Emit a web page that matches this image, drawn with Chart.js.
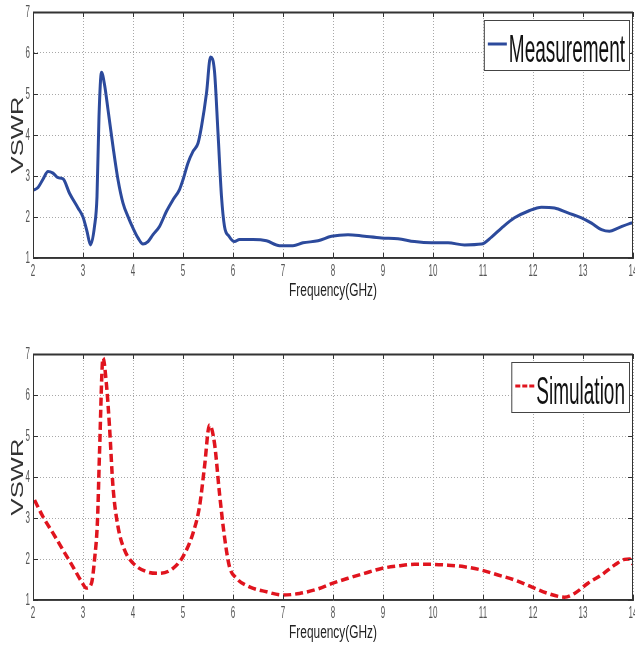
<!DOCTYPE html>
<html lang="en">
<head>
<meta charset="UTF-8">
<title>VSWR - Measurement and Simulation</title>
<script src="https://cdn.jsdelivr.net/npm/chart.js"></script>
<style>
  html, body { margin: 0; padding: 0; background: #fff; }
  .box { position: absolute; left: 0; width: 635px; height: 323px; }
  #top { top: 0; }
  #bottom { top: 323px; }
</style>
</head>
<body>
<div class="box" id="top"><canvas id="measChart"></canvas></div>
<div class="box" id="bottom"><canvas id="simChart"></canvas></div>

<script>
// axis ranges / ticks
const freqMin = 2, freqMax = 14, freqStep = 1;
const vswrMin = 1, vswrMax = 7, vswrStep = 1;
const xTitle = 'Frequency(GHz)';
const yTitle = 'VSWR';

const measX = [2.0, 2.1, 2.2, 2.3, 2.4, 2.5, 2.6, 2.73, 2.9, 3.0,
  3.08, 3.15, 3.23, 3.28, 3.32, 3.37, 3.43, 3.5, 3.6, 3.7,
  3.8, 3.9, 4.0, 4.1, 4.2, 4.3, 4.4, 4.53, 4.67, 4.8,
  4.93, 5.0, 5.1, 5.2, 5.3, 5.37, 5.47, 5.55, 5.63, 5.7,
  5.77, 5.83, 5.92, 6.03, 6.13, 6.4, 6.67, 6.93, 7.2, 7.4,
  7.7, 7.97, 8.3, 8.63, 8.97, 9.3, 9.63, 9.97, 10.3, 10.63,
  10.97, 11.17, 11.37, 11.63, 11.9, 12.17, 12.43, 12.7, 12.97, 13.17,
  13.37, 13.53, 13.7, 13.93, 14.0];
const measY = [2.65, 2.72, 2.92, 3.11, 3.07, 2.96, 2.93, 2.58, 2.22, 2.0,
  1.65, 1.32, 1.77, 2.5, 4.45, 5.53, 5.23, 4.62, 3.72, 2.91,
  2.34, 2.01, 1.73, 1.49, 1.34, 1.4, 1.57, 1.77, 2.14, 2.42,
  2.67, 2.91, 3.32, 3.6, 3.8, 4.21, 5.02, 5.9, 5.55, 4.05,
  2.5, 1.77, 1.53, 1.4, 1.45, 1.45, 1.42, 1.3, 1.3, 1.37,
  1.42, 1.53, 1.57, 1.53, 1.49, 1.47, 1.4, 1.37, 1.37, 1.32,
  1.34, 1.51, 1.73, 1.98, 2.14, 2.24, 2.22, 2.1, 1.98, 1.85,
  1.69, 1.65, 1.73, 1.84, 1.86];

// simulated VSWR
const simX = [2.03, 2.2, 2.4, 2.6, 2.8, 2.97, 3.07, 3.17, 3.23, 3.29,
  3.33, 3.4, 3.47, 3.53, 3.6, 3.7, 3.83, 4.0, 4.27, 4.53,
  4.8, 5.0, 5.2, 5.33, 5.43, 5.53, 5.63, 5.73, 5.83, 5.93,
  6.07, 6.33, 6.67, 7.0, 7.33, 7.7, 8.0, 8.3, 8.63, 8.97,
  9.3, 9.63, 9.97, 10.3, 10.63, 10.97, 11.3, 11.63, 11.97, 12.3,
  12.63, 12.83, 13.1, 13.37, 13.63, 13.83, 13.93, 14.0];
const simY = [3.44, 3.03, 2.63, 2.22, 1.81, 1.45, 1.29, 1.41, 1.98, 2.95,
  4.58, 6.9, 6.24, 5.23, 3.76, 2.79, 2.22, 1.9, 1.69, 1.65,
  1.77, 2.06, 2.63, 3.28, 4.25, 5.27, 4.82, 3.6, 2.54, 1.81,
  1.53, 1.32, 1.2, 1.12, 1.16, 1.27, 1.41, 1.53, 1.65, 1.77,
  1.83, 1.87, 1.87, 1.85, 1.81, 1.73, 1.61, 1.49, 1.32, 1.16,
  1.07, 1.16, 1.41, 1.61, 1.85, 1.99, 2.0, 1.87];

const FONT = '"Liberation Sans", Arial, sans-serif';

// text squeezed horizontally, like the stretched figure
function squashText(ctx, text, x, y, size, sx, align, color, rot) {
    ctx.save();
    ctx.translate(x, y);
    if (rot) ctx.rotate(rot);
    ctx.scale(sx, 1);
    ctx.font = size + 'px ' + FONT;
    ctx.fillStyle = color;
    ctx.textAlign = align;
    ctx.textBaseline = 'alphabetic';
    ctx.fillText(text, 0, 0);
    ctx.restore();
}

// matlab style frame, tick labels, titles and boxed legend
const matlabFrame = {
    id: 'matlabFrame',
    afterDraw(chart, args, opts) {
        const ctx = chart.ctx;
        const a = chart.chartArea;
        const xs = chart.scales.x, ys = chart.scales.y;

        ctx.save();
        ctx.strokeStyle = '#333';
        ctx.lineWidth = 1;
        ctx.setLineDash([]);
        ctx.strokeRect(a.left + 0.5, a.top + 0.5, a.right - a.left - 1, a.bottom - a.top - 1);
        ctx.lineWidth = 2;
        ctx.beginPath();
        ctx.moveTo(a.left, a.top + 0.5);
        ctx.lineTo(a.right, a.top + 0.5);
        ctx.stroke();

        // inward ticks
        ctx.lineWidth = 1;
        ctx.beginPath();
        xs.ticks.forEach(t => {
            const px = Math.round(xs.getPixelForValue(t.value)) + 0.5;
            ctx.moveTo(px, a.top); ctx.lineTo(px, a.top + 5);
            ctx.moveTo(px, a.bottom); ctx.lineTo(px, a.bottom - 5);
        });
        ys.ticks.forEach(t => {
            const py = Math.round(ys.getPixelForValue(t.value)) + 0.5;
            ctx.moveTo(a.left, py); ctx.lineTo(a.left + 5, py);
            ctx.moveTo(a.right, py); ctx.lineTo(a.right - 5, py);
        });
        ctx.stroke();
        ctx.restore();

        // tick labels
        xs.ticks.forEach(t => {
            squashText(ctx, String(t.value), xs.getPixelForValue(t.value), a.bottom + 18,
                16, 0.5, 'center', '#555');
        });
        ys.ticks.forEach(t => {
            squashText(ctx, String(t.value), a.left - 3, ys.getPixelForValue(t.value) + 5,
                16, 0.5, 'right', '#555');
        });

        // axis titles
        squashText(ctx, xTitle, (a.left + a.right) / 2, a.bottom + 38, 18, 0.66, 'center', '#222');
        squashText(ctx, yTitle, 23, (a.top + a.bottom) / 2, 16, 1.6, 'center', '#333', -Math.PI / 2);

        // legend box
        ctx.save();
        ctx.font = '38px ' + FONT;
        const tw = ctx.measureText(opts.label).width * 0.5;
        const w = 4 + 19 + 3 + tw + 3, h = 50;
        const right = a.right - 4, top = a.top + 8, left = right - w;
        ctx.fillStyle = '#fff';
        ctx.fillRect(left, top, w, h);
        ctx.strokeStyle = '#444';
        ctx.lineWidth = 1;
        ctx.strokeRect(left + 0.5, top + 0.5, w, h);
        ctx.strokeStyle = opts.color;
        ctx.lineWidth = 3;
        ctx.setLineDash(opts.dash ? [5, 2] : []);
        ctx.beginPath();
        ctx.moveTo(left + 4, top + 24);
        ctx.lineTo(left + 23, top + 24);
        ctx.stroke();
        ctx.restore();
        squashText(ctx, opts.label, left + 25, top + h - 8, 38, 0.5, 'left', '#111');
    }
};

function makeChart(id, xs, ys, label, color, dash, padTop, xAxisH) {
    const pts = xs.map((x, i) => ({ x: x, y: ys[i] }));
    return new Chart(document.getElementById(id), {
        type: 'line',
        data: {
            datasets: [{
                label: label,
                data: pts,
                borderColor: color,
                borderWidth: dash ? 3.5 : 3,
                borderDash: dash ? [8, 4] : [],
                pointRadius: 0,
                fill: false,
                cubicInterpolationMode: 'monotone'
            }]
        },
        options: {
            responsive: true,
            maintainAspectRatio: false,
            animation: false,
            devicePixelRatio: 1,
            layout: { padding: { top: padTop, right: 2, left: 0, bottom: 0 } },
            plugins: {
                legend: { display: false },
                tooltip: { enabled: false },
                matlabFrame: { label: label, color: color, dash: dash }
            },
            scales: {
                x: {
                    type: 'linear',
                    min: freqMin, max: freqMax,
                    ticks: { stepSize: freqStep, display: false },
                    grid: { color: '#a8a8a8', drawTicks: false },
                    border: { color: '#444', dash: [1, 2] },
                    afterFit: s => { s.height = xAxisH; }
                },
                y: {
                    min: vswrMin, max: vswrMax,
                    ticks: { stepSize: vswrStep, display: false },
                    grid: { color: '#a8a8a8', drawTicks: false },
                    border: { color: '#444', dash: [1, 2] },
                    afterFit: s => { s.width = 33; }
                }
            }
        },
        plugins: [matlabFrame]
    });
}

makeChart('measChart', measX, measY, 'Measurement', '#2c4a9c', false, 12, 65);
makeChart('simChart', simX, simY, 'Simulation', '#e0141e', true, 31, 46);
</script>
</body>
</html>
